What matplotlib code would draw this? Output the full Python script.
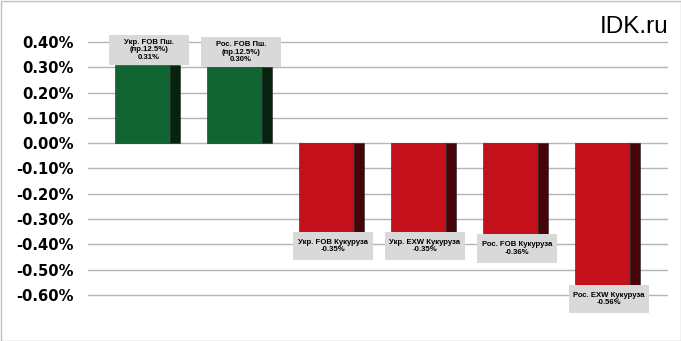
import matplotlib
matplotlib.use('Agg')
from matplotlib import pyplot as plt
from matplotlib.patches import Rectangle
from matplotlib.transforms import ScaledTranslation
import numpy as np

# price change per position, percent
labels = ['Укр. FOB Пш.\n(пр.12.5%)', 'Рос. FOB Пш.\n(пр.12.5%)',
          'Укр. FOB Кукуруза', 'Укр. EXW Кукуруза',
          'Рос. FOB Кукуруза', 'Рос. EXW Кукуруза']
values = [0.31, 0.30, -0.35, -0.35, -0.36, -0.56]
yticks = [0.4, 0.3, 0.2, 0.1, 0.0, -0.1, -0.2, -0.3, -0.4, -0.5, -0.6]

fig = plt.figure(figsize=(6.81, 3.41), dpi=100)
ax = fig.add_axes([88 / 681, 21 / 341, 580 / 681, 290 / 341])

x = np.arange(len(values))
front = ['#106533' if v > 0 else '#c3101b' for v in values]
side = ['#05230f' if v > 0 else '#470509' for v in values]

# fake 3d: front face and dark side face
ax.bar(x - 0.054, values, width=0.598, color=front, edgecolor='#222222',
       linewidth=0.4, zorder=3)
ax.bar(x + 0.299, values, width=0.109, color=side, edgecolor='#222222',
       linewidth=0.4, zorder=3)

# grey label boxes
for xi, v, lab in zip(x, values, labels):
    txt = '%s\n%.2f%%' % (lab, v)
    nlines = txt.count('\n') + 1
    h = 0.30 if nlines == 3 else 0.285
    off = ScaledTranslation(xi + 0.015, v, ax.transData)
    y0 = 0 if v > 0 else -h
    ax.add_patch(Rectangle((-0.40, y0), 0.80, h, facecolor='#d9d9d9',
                           edgecolor='none', zorder=4,
                           transform=fig.dpi_scale_trans + off, clip_on=False))
    ax.text(0, y0 + h / 2, txt, ha='center', va='center', fontsize=5.6,
            fontweight='bold', family='Liberation Sans', linespacing=1.1,
            zorder=5, transform=fig.dpi_scale_trans + off)

ax.set_xlim(-0.647, 5.658)
ax.set_ylim(-0.6988, 0.4474)
ax.set_yticks(yticks)
ax.set_yticklabels(['%.2f%%' % t for t in yticks], fontsize=10.6,
                   fontweight='bold')
ax.set_xticks([])
ax.tick_params(axis='y', length=0, pad=10)
ax.grid(axis='y', color='#b5b5b5', linewidth=1, zorder=0)
ax.set_axisbelow(True)
for s in ax.spines.values():
    s.set_visible(False)

fig.text(668 / 681, 1 - 33 / 341, 'IDK.ru', ha='right', va='baseline',
         fontsize=17.5, family='Liberation Sans')
fig.patches.append(Rectangle((0.5 / 681, 0.5 / 341), 680 / 681, 340 / 341,
                             transform=fig.transFigure, fill=False,
                             edgecolor='#bfbfbf', linewidth=1))

plt.savefig('out.png', dpi=100)
